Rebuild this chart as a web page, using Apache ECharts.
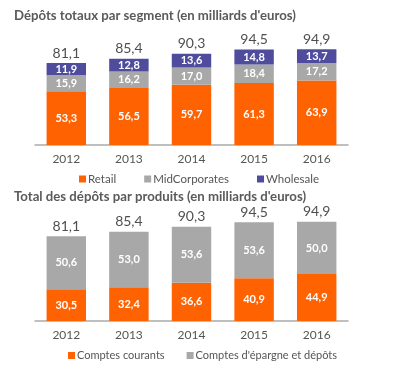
<!DOCTYPE html>
<html><head><meta charset="utf-8">
<script src="https://cdn.jsdelivr.net/npm/echarts@6/dist/echarts.min.js"></script>
<style>html,body{margin:0;padding:0;background:#fff}#c{width:393px;height:371px}</style>
</head><body><div id="c"></div>
<script>
const years = ['2012','2013','2014','2015','2016'];
const retail = [53.3, 56.5, 59.7, 61.3, 63.9];
const midCorporates = [15.9, 16.2, 17.0, 18.4, 17.2];
const wholesale = [11.9, 12.8, 13.6, 14.8, 13.7];
const totals1 = [81.1, 85.4, 90.3, 94.5, 94.9];
const comptesCourants = [30.5, 32.4, 36.6, 40.9, 44.9];
const comptesEpargne = [50.6, 53.0, 53.6, 53.6, 50.0];
const totals2 = [81.1, 85.4, 90.3, 94.5, 94.9];

const ORANGE = '#ff6200', GRAY = '#a8a8a8', PURPLE = '#4f4c9e';
const FONT = 'Lato';
const f1 = v => v.toFixed(1).replace('.', ',');
const inLabel = {show: true, color: '#fff', fontSize: 11, fontWeight: 'bold', fontFamily: FONT, formatter: p => f1(p.value)};
const totLabel = {show: true, position: 'top', distance: 3, color: '#222', fontSize: 14, fontFamily: FONT, formatter: p => f1(p.value)};

const chart = echarts.init(document.getElementById('c'));
chart.setOption({
  animation: false,
  title: [
    {text: "Dépôts totaux par segment (en milliards d'euros)", left: 9, top: 4, textStyle: {fontSize: 13.2, fontWeight: 'bold', color: '#5a5a5a', fontFamily: FONT}},
    {text: "Total des dépôts par produits (en milliards d'euros)", left: 9, top: 185, textStyle: {fontSize: 13.2, fontWeight: 'bold', color: '#5a5a5a', fontFamily: FONT}}
  ],
  legend: [
    {data: ['Retail', 'MidCorporates', 'Wholesale'], top: 168, left: 74, icon: 'rect', itemWidth: 7, itemHeight: 7, itemGap: 28,
      textStyle: {fontSize: 11.5, color: '#555', fontFamily: FONT, padding: [0, 0, 0, -3]}},
    {data: ['Comptes courants', "Comptes d'épargne et dépôts"], top: 345, left: 63, icon: 'rect', itemWidth: 7, itemHeight: 7, itemGap: 22,
      textStyle: {fontSize: 11, color: '#555', fontFamily: FONT, padding: [0, 0, 0, -3]}}
  ],
  grid: [
    {left: 35, right: 45, top: 44, height: 101},
    {left: 35, right: 45, top: 216.5, height: 104.5}
  ],
  xAxis: [0, 1].map(i => ({
    type: 'category', data: years, gridIndex: i,
    axisLine: {lineStyle: {color: '#aaa', width: 1.5}}, axisTick: {show: false},
    axisLabel: {color: '#555', fontSize: 12, fontFamily: FONT, margin: 8}
  })),
  yAxis: [0, 1].map(i => ({
    type: 'value', gridIndex: i, min: 0, max: 100, show: false, splitLine: {show: false}
  })),
  series: [
    {name: 'Retail', type: 'bar', stack: 'a', xAxisIndex: 0, yAxisIndex: 0, data: retail, barWidth: '63%', itemStyle: {color: ORANGE}, label: inLabel},
    {name: 'MidCorporates', type: 'bar', stack: 'a', xAxisIndex: 0, yAxisIndex: 0, data: midCorporates, itemStyle: {color: GRAY}, label: inLabel},
    {name: 'Wholesale', type: 'bar', stack: 'a', xAxisIndex: 0, yAxisIndex: 0, data: wholesale, itemStyle: {color: PURPLE}, label: inLabel},
    {name: 'tot1', type: 'scatter', xAxisIndex: 0, yAxisIndex: 0, data: totals1, symbolSize: 0, label: totLabel, silent: true},
    {name: 'Comptes courants', type: 'bar', stack: 'b', xAxisIndex: 1, yAxisIndex: 1, data: comptesCourants, barWidth: '63%', itemStyle: {color: ORANGE}, label: inLabel},
    {name: "Comptes d'épargne et dépôts", type: 'bar', stack: 'b', xAxisIndex: 1, yAxisIndex: 1, data: comptesEpargne, itemStyle: {color: GRAY}, label: inLabel},
    {name: 'tot2', type: 'scatter', xAxisIndex: 1, yAxisIndex: 1, data: totals2, symbolSize: 0, label: totLabel, silent: true}
  ]
});
</script></body></html>
